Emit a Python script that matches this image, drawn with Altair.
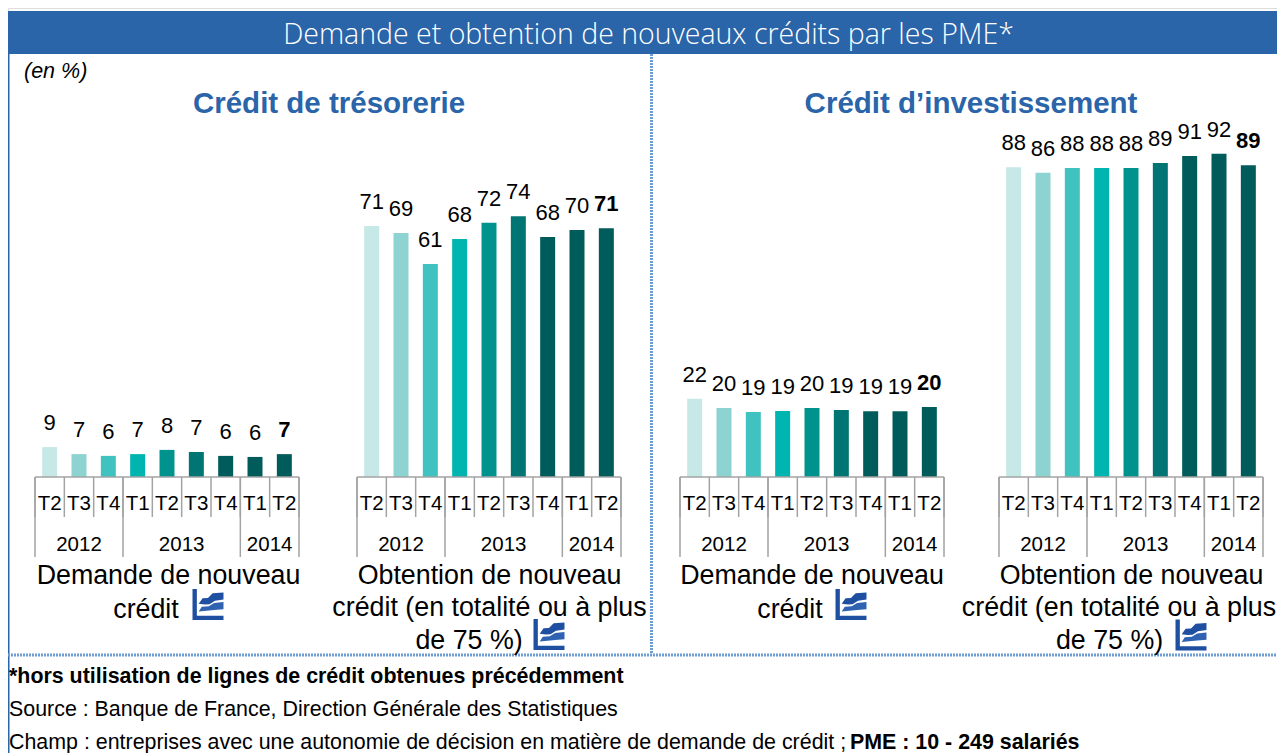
import altair as alt
import pandas as pd

# ---- data ----
quarters = ["T2", "T3", "T4", "T1", "T2", "T3", "T4", "T1", "T2"]
year_names = ["2012", "2013", "2014"]
year_edges = [0, 3, 7, 9]
colors = ["#C6E9E8", "#8CD3D1", "#40C2C1", "#00B4B0", "#00938E", "#007573", "#005C5A", "#005C5A", "#005C5A"]

dem_tres_labels = [9, 7, 6, 7, 8, 7, 6, 6, 7]
dem_tres_values = [8.5, 6.5, 6.0, 6.5, 7.7, 7.1, 6.0, 5.7, 6.5]
obt_tres_labels = [71, 69, 61, 68, 72, 74, 68, 70, 71]
obt_tres_values = [71.3, 69.3, 60.5, 67.6, 72.2, 74.1, 68.2, 70.2, 70.7]
dem_inv_labels = [22, 20, 19, 19, 20, 19, 19, 19, 20]
dem_inv_values = [22.2, 19.6, 18.5, 18.75, 19.6, 19.0, 18.7, 18.7, 19.9]
obt_inv_labels = [88, 86, 88, 88, 88, 89, 91, 92, 89]
obt_inv_values = [88.0, 86.4, 87.8, 87.8, 87.8, 89.2, 91.2, 91.8, 88.6]

panels = [
    (35, 299, dem_tres_values, dem_tres_labels),
    (357, 621, obt_tres_values, obt_tres_labels),
    (680, 944, dem_inv_values, dem_inv_labels),
    (999, 1263, obt_inv_values, obt_inv_labels),
]

title_text = "Demande et obtention de nouveaux crédits par les PME*"
section_titles = [("Crédit de trésorerie", 329), ("Crédit d’investissement", 971)]
captions = [
    ("Demande de nouveau", 168.5, 576),
    ("crédit", 146, 610),
    ("Obtention de nouveau", 489.5, 576),
    ("crédit (en totalité ou à plus", 489.5, 608),
    ("de 75 %)", 469, 641),
    ("Demande de nouveau", 812, 576),
    ("crédit", 790, 610),
    ("Obtention de nouveau", 1131.5, 576),
    ("crédit (en totalité ou à plus", 1119, 608),
    ("de 75 %)", 1109.5, 641),
]
icons = [(208, 604.5), (549, 634.5), (851, 604.5), (1191, 635)]
foot_1 = "*hors utilisation de lignes de crédit obtenues précédemment"
foot_2 = "Source : Banque de France, Direction Générale des Statistiques"
foot_3a = "Champ : entreprises avec une autonomie de décision en matière de demande de crédit ; "
foot_3b = "PME : 10 - 249 salariés"

BLUE = "#2A64A9"
DOT = "#6F9CD2"
GREY = "#A3A3A3"
FONT = "Liberation Sans"
W, H = 1269, 745


def px(v):
    return v - 8


yscale = alt.Scale(domain=[0, 100], range=[px(477), px(477 - 352)])
layers = []


def text_at(txt, x, y, size, color="#000000", align="center", weight="normal", style="normal", font=FONT):
    return (
        alt.Chart(pd.DataFrame({"t": [txt]}))
        .mark_text(fontSize=size, color=color, align=align, baseline="middle",
                   fontWeight=weight, fontStyle=style, font=font)
        .encode(text="t:N", x=alt.value(px(x)), y=alt.value(px(y)))
    )


def box(x0, x1, y0, y1, color):
    return (
        alt.Chart(pd.DataFrame({"a": [0]}))
        .mark_rect(color=color)
        .encode(x=alt.value(px(x0)), x2=alt.value(px(x1)), y=alt.value(px(y0)), y2=alt.value(px(y1)))
    )


def hv_rule(x0, x1, y0, y1, color, width, dash=None):
    kw = {"strokeDash": dash} if dash else {}
    return (
        alt.Chart(pd.DataFrame({"a": [0]}))
        .mark_rule(color=color, strokeWidth=width, **kw)
        .encode(x=alt.value(px(x0)), x2=alt.value(px(x1)), y=alt.value(px(y0)), y2=alt.value(px(y1)))
    )


# frame
layers.append(box(8, W + 8, 11, 54, BLUE))
layers.append(hv_rule(8.5, 8.5, 52, 753, BLUE, 2))
layers.append(hv_rule(651.5, 651.5, 54, 654, DOT, 3, [2, 1]))
layers.append(hv_rule(8, W + 8, 655, 655, DOT, 3, [2, 1]))
layers.append(text_at(title_text, 648.5, 34.5, 28.5, color="#FFFFFF", weight=300, font="Open Sans"))
layers.append(text_at("(en %)", 24, 72, 21.5, align="left", style="italic"))
for t, x in section_titles:
    layers.append(text_at(t, x, 104, 29.5, color=BLUE, weight="bold"))

# panels
for start, end, values, labels in panels:
    xs = alt.Scale(domain=[0, 9], range=[px(start), px(end)], padding=0)
    xq = alt.X("c:Q", scale=xs, axis=None)
    df = pd.DataFrame({
        "c": [i + 0.5 for i in range(9)],
        "e": list(range(9)),
        "q": quarters,
        "k": [str(i) for i in range(9)],
        "v": values,
        "l": labels,
    })
    base = alt.Chart(df)
    layers.append(
        base.mark_bar(width=15).encode(
            x=xq,
            y=alt.Y("v:Q", scale=yscale, axis=None),
            color=alt.Color("k:N", scale=alt.Scale(domain=df["k"].tolist(), range=colors), legend=None),
        )
    )
    ylab = alt.Y("v:Q", scale=yscale, axis=None)
    layers.append(
        alt.Chart(df.iloc[:-1]).mark_text(fontSize=22, font=FONT, color="#000000", baseline="alphabetic", dy=-17)
        .encode(x=xq, y=ylab, text="l:Q")
    )
    layers.append(
        alt.Chart(df.iloc[-1:]).mark_text(fontSize=22, font=FONT, color="#000000", baseline="alphabetic", dy=-17, fontWeight="bold")
        .encode(x=xq, y=ylab, text="l:Q")
    )
    # multi-level category axis
    xe = alt.X("e:Q", scale=xs, axis=None)
    edge_all = pd.DataFrame({"e": list(range(10))})
    layers.append(
        alt.Chart(edge_all).mark_rule(color=GREY, strokeWidth=1.5)
        .encode(x=xe, y=alt.value(px(477)), y2=alt.value(px(517)))
    )
    layers.append(
        alt.Chart(pd.DataFrame({"e": year_edges})).mark_rule(color=GREY, strokeWidth=1.5)
        .encode(x=xe, y=alt.value(px(477)), y2=alt.value(px(557)))
    )
    layers.append(
        alt.Chart(pd.DataFrame({"e": [0], "e2": [9]})).mark_rule(color=GREY, strokeWidth=1.5)
        .encode(x=xe, x2="e2:Q", y=alt.value(px(477)))
    )
    layers.append(
        base.mark_text(fontSize=20.5, font=FONT, color="#000000", baseline="middle")
        .encode(x=xq, y=alt.value(px(504)), text="q:N")
    )
    ydf = pd.DataFrame({
        "c": [(year_edges[i] + year_edges[i + 1]) / 2 for i in range(3)],
        "t": year_names,
    })
    layers.append(
        alt.Chart(ydf).mark_text(fontSize=20.5, font=FONT, color="#000000", baseline="middle")
        .encode(x=xq, y=alt.value(px(545)), text="t:N")
    )

# captions
for line, cx, cy in captions:
    layers.append(text_at(line, cx, cy, 26.8))

# icon: custom symbols
icon_axis = "M-1,-1 L-0.72,-1 L-0.72,0.72 L1,0.72 L1,1 L-1,1 Z"
icon_top = "M-0.6,-0.05 L-0.35,-0.4 L0,-0.42 L0.3,-0.72 L1,-0.78 L1,-0.32 L0.45,-0.25 L0.1,-0.02 L-0.2,0 Z"
icon_low = "M-0.6,0.45 L-0.4,0.15 L0.05,0.12 L0.4,-0.1 L1,-0.16 L1,0.3 L0.4,0.35 L-0.6,0.45 Z"
for x, y in icons:
    for shape, col in [(icon_axis, "#1F4FA0"), (icon_top, "#1F4FA0"), (icon_low, "#2F62B0")]:
        layers.append(
            alt.Chart(pd.DataFrame({"a": [0]}))
            .mark_point(shape=shape, filled=True, size=960, color=col, opacity=1, strokeWidth=0)
            .encode(x=alt.value(px(x)), y=alt.value(px(y)))
        )

# footer
layers.append(text_at(foot_1, 9, 677, 21.4, align="left", weight="bold"))
layers.append(text_at(foot_2, 9, 710, 21.4, align="left"))
layers.append(text_at(foot_3a, 9, 743, 21.4, align="left"))
layers.append(text_at(foot_3b, 850, 743, 21.4, align="left", weight="bold"))

chart = (
    alt.layer(*layers)
    .resolve_scale(x="independent", y="shared", color="independent")
    .properties(width=W, height=H, padding=0, autosize=alt.AutoSizeParams(type="none"))
    .configure_view(stroke=None)
    .configure(background="#FFFFFF")
)
chart.save("out.html", embed_options={"renderer": "svg", "actions": False})
